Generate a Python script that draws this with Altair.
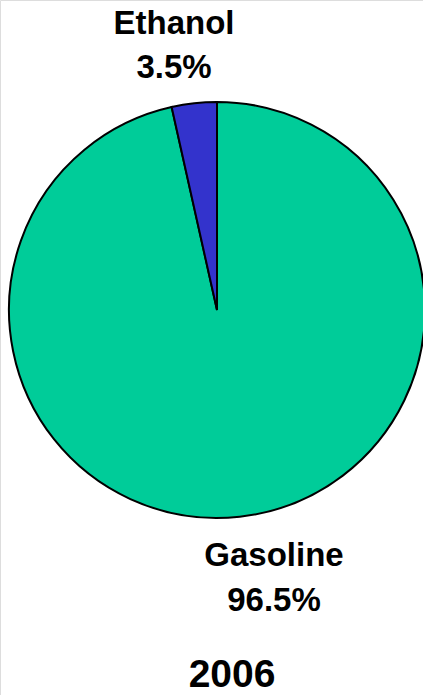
import altair as alt
import pandas as pd

# Share of motor fuel, 2006
categories = ["Gasoline", "Ethanol"]
shares = [96.5, 3.5]
colors = ["#00CC99", "#3333CC"]
year = "2006"

df = pd.DataFrame({
    "fuel": categories,
    "share": shares,
    "idx": list(range(len(categories))),
})
df["pct"] = df["share"].map(lambda v: f"{v:.1f}%")

CX, CY, R = 217, 310, 208
FONT = "Liberation Sans"

pie = alt.Chart(df).mark_arc(radius=R, stroke="black", strokeWidth=2).encode(
    theta=alt.Theta("share:Q", stack=True),
    order=alt.Order("idx:Q"),
    color=alt.Color("fuel:N", scale=alt.Scale(domain=categories, range=colors), legend=None),
    x=alt.value(CX),
    y=alt.value(CY),
)


def label(fuel, x, y_name, y_pct):
    base = alt.Chart(df).transform_filter(alt.datum.fuel == fuel)
    name = base.mark_text(font=FONT, fontWeight="bold", fontSize=33, baseline="middle").encode(
        text="fuel:N", x=alt.value(x), y=alt.value(y_name)
    )
    pct = base.mark_text(font=FONT, fontWeight="bold", fontSize=33, baseline="middle").encode(
        text="pct:N", x=alt.value(x), y=alt.value(y_pct)
    )
    return name + pct


year_text = alt.Chart(pd.DataFrame({"year": [year]})).mark_text(
    font=FONT, fontWeight="bold", fontSize=39, baseline="middle"
).encode(text="year:N", x=alt.value(232), y=alt.value(675))

chart = alt.layer(
    pie,
    label("Ethanol", 174, 24, 68),
    label("Gasoline", 274, 556, 601),
    year_text,
).properties(
    width=423, height=695, autosize=alt.AutoSizeParams(type="none"), padding=0
).configure_view(stroke=None).configure(background="white")

chart.save("out.html", embed_options={"renderer": "svg", "actions": False})
